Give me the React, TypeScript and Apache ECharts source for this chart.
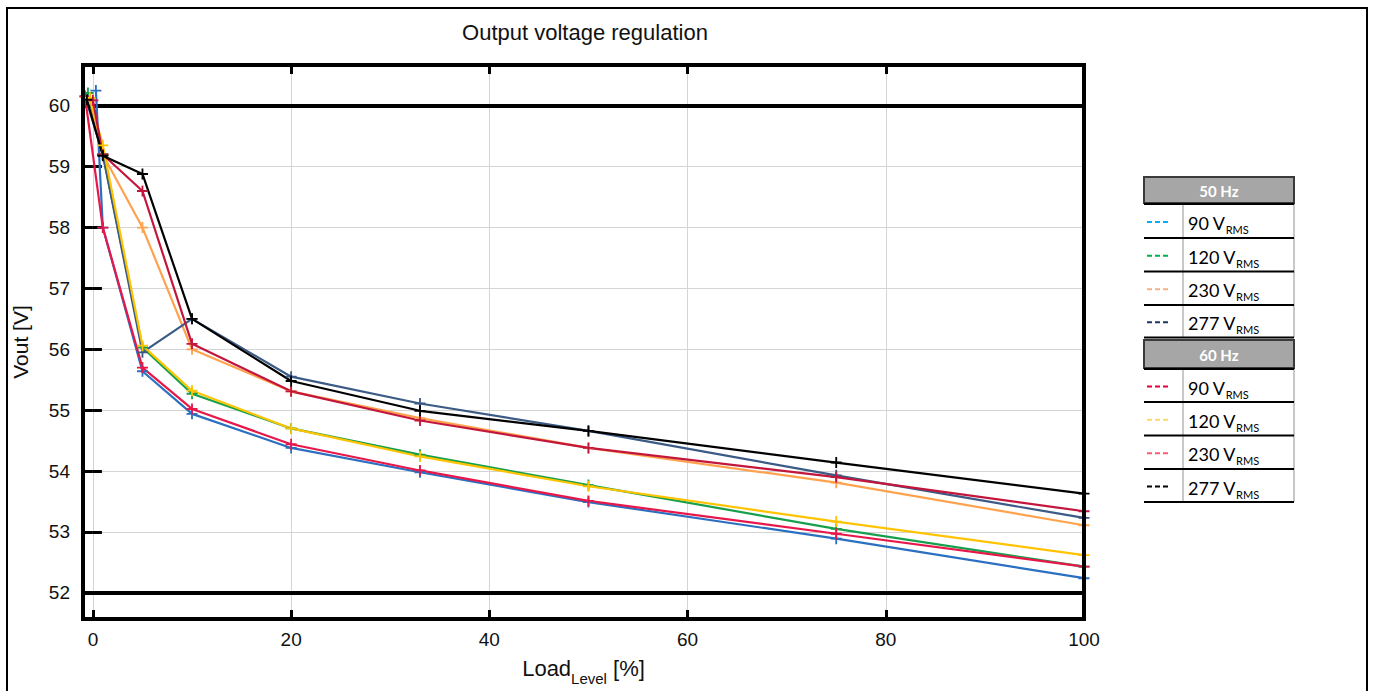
import React, { useEffect, useRef } from "react";
import * as echarts from "echarts";

// ---- data ----
const loadLevels = [1, 5, 10, 20, 33, 50, 75, 100];
const xTickLabels = ["0", "20", "40", "60", "80", "100"];
const limitLines = [60, 52];

const seriesNames = [
  "50 Hz 90 VRMS",
  "50 Hz 120 VRMS",
  "50 Hz 230 VRMS",
  "50 Hz 277 VRMS",
  "60 Hz 90 VRMS",
  "60 Hz 120 VRMS",
  "60 Hz 230 VRMS",
  "60 Hz 277 VRMS",
];
// no-load point (x, y) per series
const noLoadX = [0.3, -0.5, -0.3, -0.8, -0.8, -0.3, 0, -0.6];
const noLoadY = [60.25, 60.21, 60.11, 60.16, 60.15, 60.13, 60.09, 60.1];

const v50_90 = [58.0, 55.64, 54.94, 54.38, 53.98, 53.49, 52.89, 52.24];
const v50_120 = [59.2, 56.03, 55.27, 54.7, 54.27, 53.77, 53.05, 52.43];
const v50_230 = [59.2, 58.0, 56.0, 55.31, 54.87, 54.38, 53.81, 53.11];
const v50_277 = [59.2, 55.95, 56.5, 55.55, 55.11, 54.66, 53.93, 53.23];
const v60_90 = [58.0, 55.7, 55.02, 54.44, 54.01, 53.51, 52.97, 52.43];
const v60_120 = [59.35, 56.06, 55.32, 54.7, 54.24, 53.75, 53.17, 52.62];
const v60_230 = [59.2, 58.6, 56.09, 55.31, 54.83, 54.38, 53.9, 53.34];
const v60_277 = [59.18, 58.88, 56.5, 55.48, 54.99, 54.66, 54.14, 53.63];
const allValues = [v50_90, v50_120, v50_230, v50_277, v60_90, v60_120, v60_230, v60_277];

const lineColors = ["#2a6fc0", "#17a04c", "#ffa24d", "#3b5a85", "#e8174a", "#ffc300", "#c3163c", "#000000"];
const legendColors = ["#00b0f0", "#00b050", "#f4b183", "#1f3864", "#e8003c", "#ffd966", "#ff5c7a", "#000000"];
const legendGroups = ["50 Hz", "60 Hz"];
const legendVoltages = ["90", "120", "230", "277"];

const FONT = "Liberation Sans, Arial, sans-serif";
const LFONT = "Lato, Liberation Sans, sans-serif";
const PLUS = "path://M-1,-6 L1,-6 L1,-1 L6,-1 L6,1 L1,1 L1,6 L-1,6 L-1,1 L-6,1 L-6,-1 L-1,-1 Z";

export default function App() {
  const ref = useRef<HTMLDivElement>(null);
  useEffect(() => {
    if (!ref.current) return;
    const chart = echarts.init(ref.current, undefined, { renderer: "svg" });

    const series: any[] = allValues.map((vals, i) => ({
      name: seriesNames[i],
      type: "line",
      xAxisIndex: 0,
      yAxisIndex: 0,
      data: [[noLoadX[i], noLoadY[i]], ...loadLevels.map((x, k) => [x, vals[k]])],
      symbol: PLUS,
      symbolSize: 11,
      showAllSymbol: true,
      lineStyle: { color: lineColors[i], width: 2.2 },
      itemStyle: { color: lineColors[i] },
      z: 3,
    }));
    series[0].markLine = {
      silent: true,
      symbol: "none",
      label: { show: false },
      lineStyle: { color: "#000", width: 4, type: "solid" },
      data: limitLines.map((v) => ({ yAxis: v })),
      z: 2,
    };

    // legend table
    const lx = 1144, lw = 150, divX = 1183;
    const graphics: any[] = [];
    const blocks = [
      { head: 177, rows: [204, 238, 271.5, 305, 337.5] },
      { head: 340, rows: [369, 402, 435.5, 469, 502] },
    ];
    blocks.forEach((b, g) => {
      graphics.push({
        type: "rect",
        shape: { x: lx, y: b.head, width: lw, height: b.rows[0] - b.head - 1 },
        style: { fill: "#a6a6a6", stroke: "#3a3a3a", lineWidth: 2 },
      });
      graphics.push({
        type: "text",
        x: lx + lw / 2,
        y: (b.head + b.rows[0]) / 2,
        style: { text: legendGroups[g], fill: "#fff", font: `bold 15px ${LFONT}`, align: "center", verticalAlign: "middle" },
      });
      graphics.push({
        type: "line",
        shape: { x1: divX, y1: b.rows[0], x2: divX, y2: b.rows[4] },
        style: { stroke: "#c8c8c8", lineWidth: 2 },
      });
      graphics.push({
        type: "line",
        shape: { x1: lx + lw, y1: b.rows[0], x2: lx + lw, y2: b.rows[4] },
        style: { stroke: "#c8c8c8", lineWidth: 2 },
      });
      b.rows.forEach((ry) => {
        graphics.push({
          type: "line",
          shape: { x1: lx, y1: ry, x2: lx + lw, y2: ry },
          style: { stroke: "#000", lineWidth: 2 },
        });
      });
      for (let r = 0; r < 4; r++) {
        const cy = (b.rows[r] + b.rows[r + 1]) / 2;
        graphics.push({
          type: "line",
          shape: { x1: 1147, y1: cy + 1, x2: 1170, y2: cy + 1 },
          style: { stroke: legendColors[g * 4 + r], lineWidth: 2, lineDash: [5, 3] },
        });
        graphics.push({
          type: "text",
          x: 1188,
          y: cy - 7,
          style: {
            text: `{a|${legendVoltages[r]} V}{s|RMS}`,
            rich: {
              a: { font: `18px ${LFONT}`, fill: "#000", lineHeight: 18, verticalAlign: "top" },
              s: { font: `11px ${LFONT}`, fill: "#000", lineHeight: 21, verticalAlign: "bottom" },
            },
          },
        });
      }
    });
    graphics.push({
      type: "rect",
      shape: { x: 7, y: 8, width: 1360, height: 700 },
      style: { fill: "none", stroke: "#000", lineWidth: 2 },
      silent: true,
    });

    const commonX = {
      type: "value",
      min: -1,
      max: 100,
      minInterval: 20,
      maxInterval: 20,
      splitNumber: 5,
    };
    const commonY = {
      type: "value",
      min: 51.57,
      max: 60.67,
      minInterval: 1,
      maxInterval: 1,
      splitNumber: 9,
    };

    chart.setOption({
      animation: false,
      backgroundColor: "#fff",
      title: {
        text: "Output voltage regulation",
        left: 580,
        top: 16,
        textAlign: "center",
        textStyle: { fontFamily: FONT, fontSize: 22, fontWeight: "normal", color: "#111" },
      },
      grid: {
        left: 83,
        right: 291,
        top: 65,
        bottom: 69,
        show: true,
        borderColor: "#000",
        borderWidth: 4,
        backgroundColor: "transparent",
        z: 5,
      },
      xAxis: [
        {
          ...commonX,
          position: "bottom",
          name: "{a|Load}{s|Level}{b| [%]}",
          nameLocation: "middle",
          nameGap: 38,
          nameTextStyle: {
            rich: {
              a: { fontFamily: FONT, fontSize: 22, color: "#111", lineHeight: 22, verticalAlign: "top" },
              s: { fontFamily: FONT, fontSize: 15, color: "#111", lineHeight: 29, verticalAlign: "bottom" },
              b: { fontFamily: FONT, fontSize: 22, color: "#111", lineHeight: 22, verticalAlign: "top" },
            },
          },
          axisLine: { show: false },
          axisTick: { show: true, inside: true, length: 9, lineStyle: { color: "#000", width: 3 } },
          axisLabel: {
            showMinLabel: false,
            margin: 11,
            fontFamily: FONT,
            fontSize: 19,
            color: "#111",
            formatter: (v: number) => {
              const idx = [0, 20, 40, 60, 80, 100].indexOf(v);
              return idx >= 0 ? xTickLabels[idx] : "";
            },
          },
          splitLine: { show: true, lineStyle: { color: "#d4d4d4", width: 1 } },
        },
        {
          ...commonX,
          position: "top",
          axisLine: { show: false },
          axisTick: { show: true, inside: true, length: 9, lineStyle: { color: "#000", width: 3 } },
          axisLabel: { show: false },
          splitLine: { show: false },
        },
      ],
      yAxis: [
        {
          ...commonY,
          position: "left",
          name: "Vout [V]",
          nameLocation: "middle",
          nameGap: 52,
          nameTextStyle: { fontFamily: FONT, fontSize: 21, color: "#111" },
          axisLine: { show: false },
          axisTick: { show: true, inside: true, length: 9, lineStyle: { color: "#000", width: 3 } },
          axisLabel: {
            showMinLabel: false,
            showMaxLabel: false,
            margin: 13,
            fontFamily: FONT,
            fontSize: 19,
            color: "#111",
          },
          splitLine: { show: true, lineStyle: { color: "#d4d4d4", width: 1 } },
        },
        {
          ...commonY,
          position: "right",
          axisLine: { show: false },
          axisTick: { show: true, inside: true, length: 9, lineStyle: { color: "#000", width: 3 } },
          axisLabel: { show: false },
          splitLine: { show: false },
        },
      ],
      graphic: graphics,
      series,
    });
    return () => chart.dispose();
  }, []);
  return (
    <div
      ref={ref}
      style={{ position: "fixed", left: 0, top: 0, width: 1375, height: 691, background: "#fff" }}
    />
  );
}
